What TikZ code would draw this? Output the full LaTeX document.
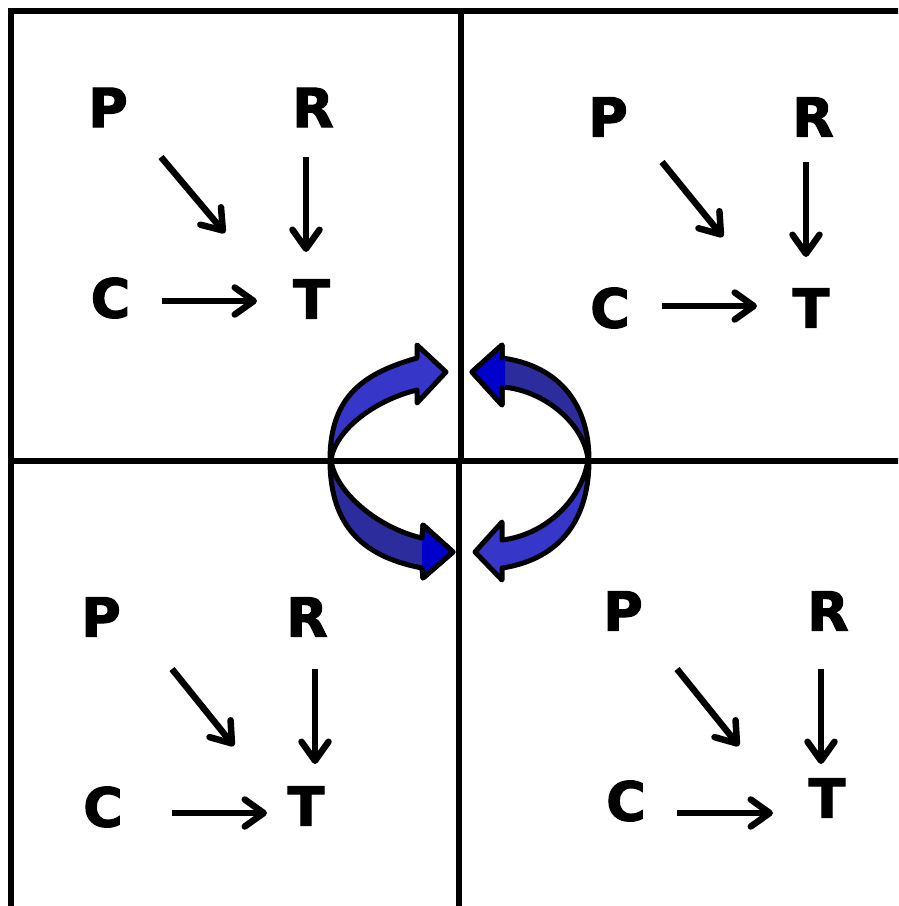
\documentclass[tikz,border=0pt]{standalone}
\usepackage{fontspec}
\setmainfont{DejaVu Sans}[BoldFont={DejaVu Sans Bold}, BoldFeatures={FakeBold=2}]
\usetikzlibrary{arrows.meta}
\definecolor{lightband}{RGB}{54,54,200}
\definecolor{darkband}{RGB}{44,44,156}
\definecolor{headblue}{RGB}{0,0,204}
\tikzset{
  letter/.style={inner sep=0pt, font=\fontsize{54}{54}\selectfont\bfseries},
  link/.style={line width=6.5pt, -{Straight Barb[length=19pt,width=27pt,round]}},
  frameline/.style={line width=6pt},
  ribbon/.style={line width=5pt, line join=round, line cap=round},
}
\begin{document}
\begin{tikzpicture}[x=1pt,y=1pt]
\useasboundingbox (0,-906) rectangle (898,0);
\fill[white] (0,-906) rectangle (898,0);
\begin{scope}
  \clip (0,-906) rectangle (898,0);
  \draw[frameline] (11,-920) -- (11,-11) -- (910,-11);
  \draw[frameline] (11,-460.5) -- (910,-460.5);
  \draw[frameline] (460.5,-11) -- (460.5,-460.5);
  \draw[frameline] (459,-460.5) -- (459,-920);
\end{scope}

% Quadrant 1 (top left)
\node[letter] (q1P) at (108,-107.5) {P};
\node[letter] (q1R) at (313,-107.5) {R};
\node[letter] (q1C) at (110.5,-298) {C};
\node[letter] (q1T) at (311.5,-299) {T};
\coordinate (q1d1) at (161,-157); \coordinate (q1d2) at (225,-233);
\coordinate (q1v1) at (306,-157); \coordinate (q1v2) at (306,-252);
\coordinate (q1h1) at (162,-301); \coordinate (q1h2) at (257,-301);
\draw[link] (q1d1) -- (q1d2);
\draw[link] (q1v1) -- (q1v2);
\draw[link] (q1h1) -- (q1h2);

% Quadrant 2 (top right)
\node[letter] (q2P) at (608,-117) {P};
\node[letter] (q2R) at (813,-117) {R};
\node[letter] (q2C) at (610,-308) {C};
\node[letter] (q2T) at (811,-308) {T};
\coordinate (q2d1) at (662,-162); \coordinate (q2d2) at (723,-237);
\coordinate (q2v1) at (806,-162); \coordinate (q2v2) at (806,-257);
\coordinate (q2h1) at (662,-306); \coordinate (q2h2) at (757,-306);
\draw[link] (q2d1) -- (q2d2);
\draw[link] (q2v1) -- (q2v2);
\draw[link] (q2h1) -- (q2h2);

% Quadrant 3 (bottom left)
\node[letter] (q3P) at (101,-617) {P};
\node[letter] (q3R) at (307,-617) {R};
\node[letter] (q3C) at (103,-807) {C};
\node[letter] (q3T) at (306,-806) {T};
\coordinate (q3d1) at (172,-669); \coordinate (q3d2) at (234,-746);
\coordinate (q3v1) at (315,-669); \coordinate (q3v2) at (315,-764);
\coordinate (q3h1) at (172,-813); \coordinate (q3h2) at (267,-813);
\draw[link] (q3d1) -- (q3d2);
\draw[link] (q3v1) -- (q3v2);
\draw[link] (q3h1) -- (q3h2);

% Quadrant 4 (bottom right)
\node[letter] (q4P) at (623,-611) {P};
\node[letter] (q4R) at (828,-611) {R};
\node[letter] (q4C) at (626,-801) {C};
\node[letter] (q4T) at (827,-798) {T};
\coordinate (q4d1) at (677,-669); \coordinate (q4d2) at (739,-746);
\coordinate (q4v1) at (821,-669); \coordinate (q4v2) at (821,-764);
\coordinate (q4h1) at (677,-813); \coordinate (q4h2) at (773,-813);
\draw[link] (q4d1) -- (q4d2);
\draw[link] (q4v1) -- (q4v2);
\draw[link] (q4h1) -- (q4h2);

% Curved cycle arrows
\begin{scope}[shift={(460,-460)}]
  % top left
  \draw[ribbon, fill=lightband]
    (-130,0) .. controls (-130,65) and (-95,87) .. (-43,102)
    -- (-43,115) -- (-14,88) -- (-43,57)
    -- (-43,70) .. controls (-85,60) and (-125,30) .. (-129,0)
    -- cycle;
  % bottom left
  \draw[ribbon, fill=darkband]
    (-130,0) .. controls (-130,-68) and (-95,-97) .. (-38,-108)
    -- (-37,-118) -- (-7,-92) -- (-37,-65)
    -- (-38,-78) .. controls (-82,-68) and (-125,-32) .. (-129,0)
    -- cycle;
  \fill[headblue] (-38,-108) -- (-37,-118) -- (-7,-92) -- (-37,-65) -- (-38,-78) -- cycle;
  \draw[ribbon] (-38,-108) -- (-37,-118) -- (-7,-92) -- (-37,-65) -- (-38,-78);
  % top right
  \draw[ribbon, fill=darkband]
    (129,0) .. controls (129,60) and (95,95) .. (42,102)
    -- (42,115) -- (12,88) -- (42,55)
    -- (42,73) .. controls (85,70) and (125,35) .. (128,0)
    -- cycle;
  \fill[headblue] (45,102) -- (42,102) -- (42,115) -- (12,88) -- (42,55) -- (42,73) -- (45,73) -- cycle;
  \draw[ribbon] (42,102) -- (42,115) -- (12,88) -- (42,55) -- (42,73);
  % bottom right
  \draw[ribbon, fill=lightband]
    (129,0) .. controls (129,-65) and (95,-100) .. (42,-108)
    -- (42,-120) -- (15,-92) -- (42,-62)
    -- (42,-80) .. controls (85,-75) and (122,-40) .. (128,0)
    -- cycle;
\end{scope}
\end{tikzpicture}
\end{document}
